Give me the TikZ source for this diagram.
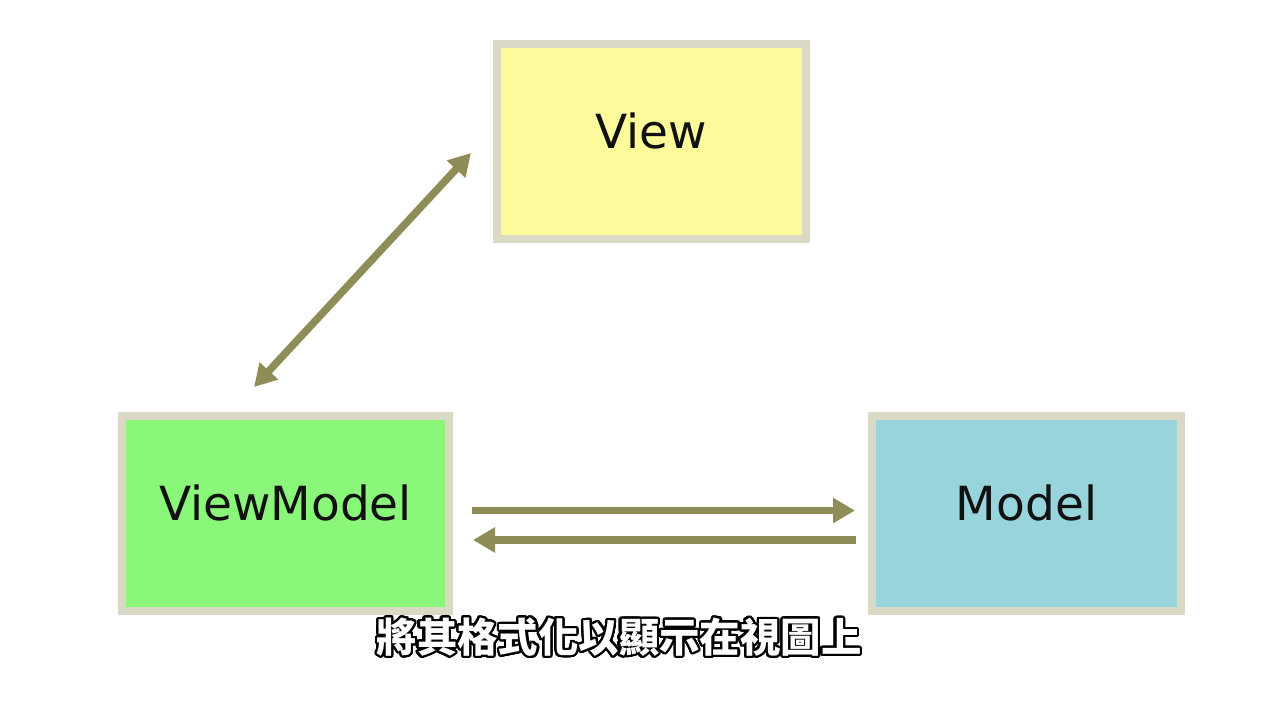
\documentclass[tikz,border=0pt]{standalone}
\usepackage{fontspec}
\setmainfont{DejaVu Sans}
\newfontfamily\cjk{Noto Sans CJK TC}
\usepackage{contour}
\contourlength{2.2pt}
\contournumber{32}
\usetikzlibrary{arrows.meta}
\definecolor{bordc}{HTML}{D9D9C5}
\definecolor{arrc}{HTML}{8E8D58}
\definecolor{viewc}{HTML}{FBFB9B}
\definecolor{vmc}{HTML}{8BF77A}
\definecolor{modc}{HTML}{98D4DB}
\definecolor{txtc}{HTML}{111111}
\begin{document}
\begin{tikzpicture}[x=1pt,y=-1pt,
  box/.style={draw=bordc, line width=8pt, inner sep=0pt, text height=104pt, text depth=91pt,
    align=center, text=txtc, font=\fontsize{47}{56}\selectfont},
  arr/.style={draw=arrc, line width=7.5pt},
  >={Triangle[length=22pt,width=24pt]}]
\fill[white] (0,0) rectangle (1280,720);
\useasboundingbox (0,0) rectangle (1280,720);
\node[box, fill=viewc, minimum width=309pt] (view) at (651.5,141.5) {View};
\node[box, fill=vmc, minimum width=327pt] (vm) at (285.5,513.5) {ViewModel};
\node[box, fill=modc, minimum width=309pt] (m) at (1026.5,513.5) {Model};
\draw[arr, <->] ([xshift=-31.5pt,yshift=25pt]vm.north) -- ([xshift=-22pt,yshift=-11.5pt]view.west);
\draw[arr, ->, shorten <=19pt, shorten >=13pt] ([yshift=3pt]vm.east) -- ([yshift=3pt]m.west);
\draw[arr, ->, shorten <=12pt, shorten >=20pt] ([yshift=-26.5pt]m.west) -- ([yshift=-26.5pt]vm.east);
\node[text=white, inner sep=0pt] (sub) at (619,638) {\cjk\bfseries\fontsize{40.4}{48}\selectfont\contour{black}{將其格式化以顯示在視圖上}};
\end{tikzpicture}
\end{document}
